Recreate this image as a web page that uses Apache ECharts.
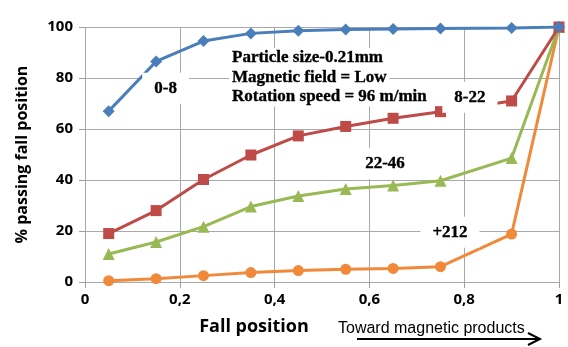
<!DOCTYPE html>
<html>
<head>
<meta charset="utf-8">
<script src="https://cdn.jsdelivr.net/npm/echarts@6/dist/echarts.min.js"></script>
<style>
html,body{margin:0;padding:0;background:#fff;}
#chart{width:568px;height:347px;}
</style>
</head>
<body>
<div id="chart"></div>
<script>
// Fall positions (fraction of the way toward the magnetic products)
const fallPos = [0.05, 0.15, 0.25, 0.35, 0.45, 0.55, 0.65, 0.75, 0.9, 1.0];
// Cumulative % passing for each size fraction
const frac0_8   = [67, 86.5, 94.5, 97.5, 98.5, 99, 99.2, 99.4, 99.6, 100];
const frac8_22  = [19, 28, 40.2, 49.8, 57.3, 61, 64.2, 66.8, 71, 100];
const frac22_46 = [11, 15.7, 21.7, 29.6, 33.7, 36.5, 37.8, 39.7, 48.6, 100];
const frac212   = [0.5, 1.3, 2.5, 3.7, 4.5, 5, 5.3, 6, 18.8, 100];

const seriesNames = ['0-8', '8-22', '22-46', '+212'];
// Curve tag anchors in data coordinates
const tagPos = [[0.17, 76], [0.812, 72.5], [0.633, 46.5], [0.77, 19.5]];
const noteLines = ['Particle size-0.21mm', 'Magnetic field = Low', 'Rotation speed = 96 m/min'];
const notePos = [0.308, 87.8];

const colors = ['#4A7EBB', '#BE4B48', '#98B954', '#F08A3A'];
const symbols = ['diamond', 'rect', 'triangle', 'circle'];
const symbolSizes = [12, 11, 12, 11];
const values = [frac0_8, frac8_22, frac22_46, frac212];

const chart = echarts.init(document.getElementById('chart'));

const lineSeries = values.map((vals, i) => ({
  name: seriesNames[i],
  type: 'line',
  data: vals.map((v, k) => [fallPos[k], v]),
  symbol: symbols[i],
  symbolSize: symbolSizes[i],
  showAllSymbol: true,
  lineStyle: { color: colors[i], width: 3 },
  itemStyle: { color: colors[i] },
  z: 3 + (3 - i)
}));

const serif = '"Liberation Serif", "DejaVu Serif", serif';
const sans = '"Open Sans", "Liberation Sans", sans-serif';

chart.setOption({
  animation: false,
  backgroundColor: '#fff',
  grid: { left: 85, right: 9, top: 27, bottom: 65 },
  xAxis: {
    type: 'value',
    min: 0, max: 1, interval: 0.2,
    name: 'Fall position',
    nameLocation: 'middle',
    nameGap: 36,
    nameTextStyle: { fontFamily: sans, fontWeight: 'bold', fontSize: 18, color: '#000', padding: [0, 136, 0, 0] },
    axisLine: { show: false },
    axisTick: { show: true, length: 6, inside: false, lineStyle: { color: '#A0A0A0' } },
    splitLine: { show: true, lineStyle: { color: '#A8A8A8', width: 1 } },
    axisLabel: {
      fontFamily: sans, fontWeight: 'bold', fontSize: 15, color: '#000', margin: 10,
      formatter: v => String(Math.round(v * 10) / 10).replace('.', ',')
    }
  },
  yAxis: {
    type: 'value',
    min: 0, max: 100, interval: 20,
    name: '% passing fall position',
    nameLocation: 'middle',
    nameGap: 55,
    nameTextStyle: { fontFamily: sans, fontWeight: 'bold', fontSize: 16, color: '#000' },
    axisLine: { show: false },
    axisTick: { show: true, length: 6, lineStyle: { color: '#A0A0A0' } },
    splitLine: { show: true, lineStyle: { color: '#A8A8A8', width: 1 } },
    axisLabel: { fontFamily: sans, fontWeight: 'bold', fontSize: 15, color: '#000', margin: 12 }
  },
  series: lineSeries
});

// Curve tags and the test-condition note, placed from data coordinates
const toPx = p => chart.convertToPixel({ gridIndex: 0 }, p);
const tagFont = { fontFamily: serif, fontWeight: 'bold', fontSize: 17, fill: '#000', stroke: '#000', lineWidth: 0.35 };

const tagGraphics = tagPos.map((p, i) => {
  const [px, py] = toPx(p);
  return {
    type: 'text',
    x: px, y: py,
    z: 100,
    style: Object.assign({
      text: seriesNames[i],
      align: 'center',
      verticalAlign: 'middle',
      backgroundColor: '#fff',
      padding: [7, 12, 7, 12]
    }, tagFont)
  };
});

// Each note line gets its own white box
const [nx, ny] = toPx(notePos);
const noteGraphics = noteLines.map((t, i) => ({
  type: 'text',
  x: nx - 2, y: ny - 10 + i * 19.5,
  z: 100,
  style: Object.assign({
    text: t,
    align: 'left',
    verticalAlign: 'top',
    lineHeight: 19.5,
    backgroundColor: '#fff',
    padding: [0, 3, 0, 3]
  }, tagFont)
}));

chart.setOption({
  graphic: [
    ...tagGraphics,
    ...noteGraphics,
    {
      type: 'text',
      left: 338, top: 321,
      style: { text: 'Toward magnetic products', fontFamily: '"Liberation Sans", "Open Sans", sans-serif', fontSize: 16, fill: '#000' }
    },
    {
      type: 'line',
      shape: { x1: 357, y1: 339, x2: 538, y2: 339 },
      style: { stroke: '#000', lineWidth: 2 }
    },
    {
      type: 'polyline',
      shape: { points: [[528, 333], [540, 339], [528, 345]] },
      style: { stroke: '#000', lineWidth: 2, fill: null }
    }
  ]
});
</script>
</body>
</html>
